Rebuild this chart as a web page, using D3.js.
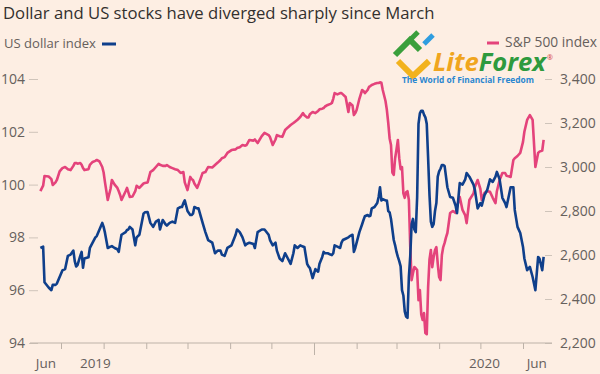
<!doctype html>
<html lang="en">
<head>
<meta charset="utf-8">
<script src="https://d3js.org/d3.v7.min.js"></script>
<style>
  html, body { margin: 0; padding: 0; background: #fdeee3; }
  svg text { font-family: "Open Sans", "Noto Sans", sans-serif; }
</style>
<title>Dollar and US stocks</title>
</head>
<body>
<svg id="chart" width="600" height="374"></svg>
<script>
// data (daily-ish points, Jun 2019 - Jun 2020)
var dates = [
  "2019-06-16","2019-06-18","2019-06-19","2019-06-22","2019-06-24","2019-06-25","2019-06-27","2019-06-28","2019-06-30",
  "2019-07-02","2019-07-04","2019-07-06","2019-07-08","2019-07-10","2019-07-11","2019-07-12","2019-07-13","2019-07-15",
  "2019-07-16","2019-07-17","2019-07-18","2019-07-21","2019-07-22","2019-07-24","2019-07-26","2019-07-27","2019-07-29",
  "2019-07-31","2019-08-01","2019-08-02","2019-08-04","2019-08-06","2019-08-07","2019-08-09","2019-08-11","2019-08-12",
  "2019-08-13","2019-08-14","2019-08-17","2019-08-18","2019-08-19","2019-08-20","2019-08-22","2019-08-24","2019-08-25",
  "2019-08-27","2019-08-30","2019-08-31","2019-09-02","2019-09-04","2019-09-06","2019-09-08","2019-09-10","2019-09-11",
  "2019-09-13","2019-09-15","2019-09-16","2019-09-18","2019-09-20","2019-09-22","2019-09-24","2019-09-26","2019-09-27",
  "2019-09-28","2019-09-29","2019-10-01","2019-10-03","2019-10-04","2019-10-05","2019-10-06","2019-10-08","2019-10-09",
  "2019-10-12","2019-10-14","2019-10-16","2019-10-19","2019-10-21","2019-10-23","2019-10-25","2019-10-26","2019-10-28",
  "2019-10-30","2019-11-02","2019-11-05","2019-11-06","2019-11-08","2019-11-10","2019-11-12","2019-11-13","2019-11-15",
  "2019-11-18","2019-11-19","2019-11-21","2019-11-24","2019-11-26","2019-11-29","2019-11-30","2019-12-02","2019-12-04",
  "2019-12-05","2019-12-07","2019-12-09","2019-12-11","2019-12-13","2019-12-15","2019-12-17","2019-12-18","2019-12-20",
  "2019-12-22","2019-12-24","2019-12-25","2019-12-27","2019-12-28","2019-12-29","2019-12-31","2020-01-02","2020-01-04",
  "2020-01-05","2020-01-07","2020-01-08","2020-01-09","2020-01-11","2020-01-13","2020-01-14","2020-01-15","2020-01-16",
  "2020-01-18","2020-01-20","2020-01-21","2020-01-22","2020-01-24","2020-01-26","2020-01-27","2020-01-29","2020-01-30",
  "2020-01-31","2020-02-01","2020-02-03","2020-02-05","2020-02-06","2020-02-07","2020-02-09","2020-02-10","2020-02-11",
  "2020-02-12","2020-02-14","2020-02-16","2020-02-17","2020-02-18","2020-02-19","2020-02-20","2020-02-22","2020-02-23",
  "2020-02-24","2020-02-25","2020-02-26","2020-02-27","2020-02-28","2020-02-29","2020-03-01","2020-03-02","2020-03-03",
  "2020-03-04","2020-03-05","2020-03-06","2020-03-07","2020-03-08","2020-03-09","2020-03-10","2020-03-11","2020-03-12",
  "2020-03-13","2020-03-14","2020-03-15","2020-03-16","2020-03-17","2020-03-18","2020-03-19","2020-03-20","2020-03-21",
  "2020-03-22","2020-03-23","2020-03-24","2020-03-25","2020-03-26","2020-03-27","2020-03-28","2020-03-29","2020-03-30",
  "2020-03-31","2020-04-01","2020-04-02","2020-04-03","2020-04-04","2020-04-05","2020-04-06","2020-04-07","2020-04-09",
  "2020-04-11","2020-04-13","2020-04-14","2020-04-16","2020-04-18","2020-04-20","2020-04-21","2020-04-23","2020-04-26",
  "2020-04-27","2020-04-29","2020-05-01","2020-05-02","2020-05-04","2020-05-06","2020-05-08","2020-05-10","2020-05-12",
  "2020-05-13","2020-05-15","2020-05-17","2020-05-19","2020-05-20","2020-05-23","2020-05-25","2020-05-26","2020-05-28",
  "2020-05-30","2020-06-01","2020-06-02","2020-06-04","2020-06-06","2020-06-08","2020-06-10","2020-06-12","2020-06-13",
  "2020-06-15","2020-06-16"
];

var dollarIndex = [
  97.6,97.65,96.3,96.1,96.0,96.2,96.2,96.25,96.5,
  96.75,96.8,97.3,97.35,97.5,97.1,96.9,96.95,97.3,
  97.45,96.85,97.2,97.25,97.6,97.8,98.0,98.05,98.3,
  98.55,98.4,98.17,97.6,97.65,97.67,97.6,97.55,97.45,
  97.8,98.1,98.2,98.28,98.3,98.4,98.3,97.7,98.0,
  98.1,98.9,98.95,98.96,98.55,98.4,98.6,98.66,98.3,
  98.66,98.5,98.45,98.55,98.6,98.55,99.1,99.15,99.15,
  99.3,99.4,99.0,98.85,98.85,98.9,99.15,99.1,99.1,
  98.55,98.2,97.9,97.8,97.4,97.5,97.5,97.35,97.3,
  97.6,97.7,98.1,98.3,98.2,98.0,97.7,97.75,97.8,
  97.75,97.6,98.2,98.3,98.3,98.1,97.9,97.7,97.8,
  97.5,97.2,97.1,97.4,97.2,97.0,97.4,97.7,97.6,
  97.7,97.65,97.64,97.0,96.9,96.84,96.46,96.8,96.7,
  97.0,97.26,97.45,97.4,97.4,97.35,97.33,97.4,97.7,
  97.65,97.6,97.8,97.9,97.95,98.0,98.05,98.1,97.45,
  97.6,97.8,98.2,98.5,98.66,98.8,98.85,98.8,98.82,
  99.1,99.15,99.3,99.53,99.9,99.4,99.45,99.4,99.4,
  99.0,98.95,98.7,98.3,97.9,97.7,97.45,97.26,97.1,
  96.9,96.0,95.8,95.2,95.0,94.95,96.5,97.3,98.5,
  98.7,98.3,98.2,99.5,102.3,102.7,102.8,102.8,102.65,
  102.55,102.3,101.0,99.6,98.6,98.4,98.5,99.0,99.3,
  100.3,100.5,100.6,100.74,100.74,100.7,100.3,99.9,99.53,
  99.5,99.2,98.92,100.06,100.0,100.2,100.44,100.3,100.0,
  99.8,99.1,99.3,99.2,99.6,99.8,100.2,100.1,100.3,
  100.48,100.2,99.5,99.3,99.15,99.9,99.9,99.04,98.4,
  98.17,97.64,97.2,96.76,96.88,96.5,96.0,97.26,97.2,
  96.76,97.26
];

var sp500 = [
  2890,2915,2959,2957,2945,2918,2930,2941,2980,
  2995,3000,2990,2986,3005,3018,3018,3015,3018,
  3010,2995,2986,2990,3010,3023,3028,3032,3025,
  3000,2975,2930,2850,2900,2941,2920,2905,2890,
  2873,2850,2890,2905,2885,2864,2866,2890,2915,
  2905,2925,2927,2930,2977,2986,3000,3014,3010,
  3005,3005,3009,3000,2995,2990,2986,2973,2975,
  2977,2930,2895,2955,2945,2941,2925,2905,2920,
  2973,2977,3000,2998,3009,3020,3032,3040,3045,
  3064,3077,3080,3086,3090,3100,3097,3100,3123,
  3120,3125,3109,3140,3155,3145,3136,3100,3125,
  3145,3140,3137,3168,3180,3191,3200,3205,3215,
  3227,3245,3235,3225,3225,3240,3250,3245,3255,
  3262,3265,3268,3275,3282,3287,3291,3310,3336,
  3330,3336,3336,3330,3318,3250,3291,3280,3236,
  3245,3259,3310,3350,3345,3336,3350,3364,3368,
  3373,3378,3382,3382,3385,3383,3350,3300,3259,
  3200,3130,3100,2975,2964,3040,3080,3123,3040,
  2990,3000,2880,2860,2885,2890,2850,2636,2486,
  2518,2545,2540,2532,2395,2441,2330,2305,2336,
  2245,2240,2455,2580,2623,2545,2590,2623,2636,
  2560,2500,2486,2600,2636,2655,2680,2700,2791,
  2800,2791,2820,2864,2805,2780,2745,2850,2880,
  2909,2941,2900,2850,2882,2890,2887,2860,2836,
  2890,2941,2973,2973,2960,2955,3032,3040,3050,
  3064,3114,3160,3214,3236,3214,3000,3064,3070,
  3075,3123
];

var dollarTicks = [94, 96, 98, 100, 102, 104];
var spTicks = [2200, 2400, 2600, 2800, 3000, 3200, 3400];
var xLabels = [["2019-06-20", "Jun"], ["2019-07-26", "2019"], ["2020-05-04", "2020"], ["2020-06-11", "Jun"]];
var yearTick = "2020-01-01";

var parse = d3.timeParse("%Y-%m-%d");
var data = dates.map(function(d, i) {
  return {date: parse(d), usd: dollarIndex[i], sp: sp500[i]};
});

var svg = d3.select("#chart");
var bg = "#fdeee3", ink = "#33302e", grey = "#66605c";
var blue = "#0f3f8b", pink = "#e4437b";

svg.append("rect").attr("width", 600).attr("height", 374).attr("fill", bg);

// plot box
var plotLeft = 30, plotRight = 552, plotTop = 79, plotBottom = 343;

var x = d3.scaleTime()
  .domain([parse("2019-07-01"), parse("2020-06-01")])
  .range([61, 523]);
var yL = d3.scaleLinear().domain([94, 104]).range([plotBottom, plotTop]);
var yR = d3.scaleLinear().domain([2200, 3400]).range([plotBottom, plotTop]);

// title + axis captions
var title = svg.append("text")
  .attr("x", 3).attr("y", 19)
  .attr("fill", ink)
  .style("font-size", "17px")
  .text("Dollar and US stocks have diverged sharply since March");
var tw = title.node().getComputedTextLength();
title.style("font-size", (17 * 432 / tw) + "px");

var capL = svg.append("text").attr("x", 4).attr("y", 48)
  .attr("fill", grey).style("font-size", "13px").text("US dollar index");
var cl = capL.node().getComputedTextLength();
capL.style("font-size", (13 * 92 / cl) + "px");
svg.append("line").attr("x1", 102).attr("x2", 116).attr("y1", 44).attr("y2", 44)
  .attr("stroke", blue).attr("stroke-width", 3);

var capR = svg.append("text").attr("x", 597).attr("y", 47).attr("text-anchor", "end")
  .attr("fill", grey).style("font-size", "13px").text("S&P 500 index");
var cr = capR.node().getComputedTextLength();
capR.style("font-size", (13 * 92 / cr) + "px");
svg.append("line").attr("x1", 487).attr("x2", 499).attr("y1", 43).attr("y2", 43)
  .attr("stroke", pink).attr("stroke-width", 3);

// left axis
var gL = svg.append("g").attr("transform", "translate(38,0)")
  .call(d3.axisLeft(yL).tickValues(dollarTicks).tickSize(9).tickPadding(4).tickFormat(d3.format("d")));
// right axis
var gR = svg.append("g").attr("transform", "translate(545,0)")
  .call(d3.axisRight(yR).tickValues(spTicks).tickSize(7).tickPadding(8).tickFormat(d3.format(",")));
[gL, gR].forEach(function(g) {
  g.select(".domain").remove();
  g.selectAll(".tick line").attr("stroke", "#cfc4ba");
  g.selectAll(".tick text").attr("fill", grey).style("font-size", "14px")
    .style("font-family", "'Open Sans', sans-serif");
});

// bottom axis
var gX = svg.append("g").attr("transform", "translate(0," + plotBottom + ")")
  .call(d3.axisBottom(x).ticks(d3.timeMonth.every(1)).tickSize(6).tickFormat(""));
gX.select(".domain").remove();
gX.selectAll(".tick line").attr("stroke", "#bdb2a8")
  .attr("y2", function(d) { return +d === +parse(yearTick) ? 12 : 6; });
gX.append("line").attr("x1", plotLeft).attr("x2", plotRight).attr("stroke", "#bdb2a8");
gX.selectAll(".lbl").data(xLabels).enter().append("text")
  .attr("class", "lbl")
  .attr("x", function(d) { return x(parse(d[0])); })
  .attr("y", 25)
  .attr("text-anchor", "middle")
  .attr("fill", grey)
  .style("font-size", "13.5px")
  .text(function(d) { return d[1]; });

// lines
var lineSp = d3.line().x(function(d) { return x(d.date); }).y(function(d) { return yR(d.sp); });
var lineUsd = d3.line().x(function(d) { return x(d.date); }).y(function(d) { return yL(d.usd); });

svg.append("path").datum(data).attr("d", lineSp)
  .attr("fill", "none").attr("stroke", pink).attr("stroke-width", 2.6).attr("stroke-linejoin", "round");
svg.append("path").datum(data).attr("d", lineUsd)
  .attr("fill", "none").attr("stroke", blue).attr("stroke-width", 2.6).attr("stroke-linejoin", "round");

// watermark logo
var logo = svg.append("g");
logo.append("path").attr("d", "M395,55 L410,40 L420,50").attr("fill", "none")
  .attr("stroke", "#3a9f3c").attr("stroke-width", 6).attr("stroke-linejoin", "miter");
logo.append("path").attr("d", "M410,40 L418,32").attr("stroke", "#3a9f3c").attr("stroke-width", 5);
logo.append("path").attr("d", "M424,44 L433,35").attr("stroke", "#2f9de0").attr("stroke-width", 5);
logo.append("path").attr("d", "M398,61 L413,76 L429,61").attr("fill", "none")
  .attr("stroke", "#f2b21c").attr("stroke-width", 6);
var lf = logo.append("text").attr("x", 433).attr("y", 71)
  .style("font-size", "20px").style("font-weight", "bold").style("font-style", "italic");
lf.append("tspan").attr("fill", "#f0a51e").text("Lite");
lf.append("tspan").attr("fill", "#2e9a3e").text("Forex");
var lw = lf.node().getComputedTextLength();
lf.style("font-size", (20 * 113 / lw) + "px");
logo.append("text").attr("x", 547).attr("y", 60).attr("fill", "#d2343a")
  .style("font-size", "7px").text("®");
logo.append("text").attr("x", 402).attr("y", 82.5).attr("fill", "#2a86d0")
  .style("font-size", "8px").style("font-weight", "bold")
  .attr("textLength", 132).attr("lengthAdjust", "spacingAndGlyphs")
  .text("The World of Financial Freedom");
</script>
</body>
</html>
